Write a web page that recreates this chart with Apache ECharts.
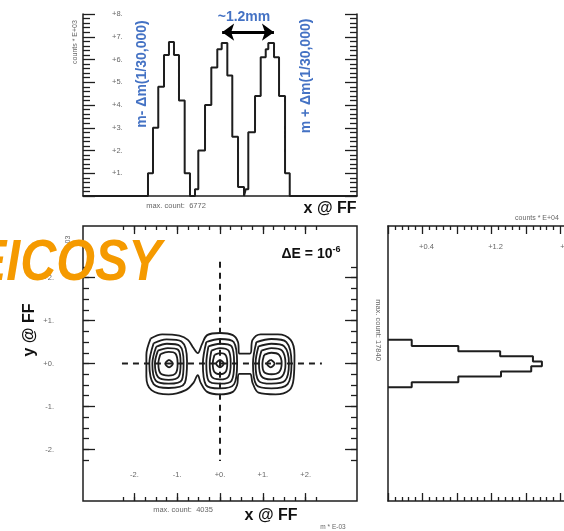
<!DOCTYPE html>
<html><head><meta charset="utf-8">
<script src="https://cdn.jsdelivr.net/npm/echarts@6/dist/echarts.min.js"></script>
<style>html,body{margin:0;padding:0;background:#fff}#c{width:564px;height:531px}</style>
</head><body><div id="c"></div><script>
// ---------- data ----------
// top panel: x-projection histogram (counts * E+03), three peaks
const peak1Edges = [-1.682,-1.565,-1.442,-1.308,-1.192,-1.075,-0.958,-0.825,-0.701];
const peak1Counts = [1.0,3.0,4.8,6.2,6.77,6.2,4.2,1.0];
const peak2Edges = [-0.584,-0.507,-0.350,-0.203,-0.063,0.040,0.171,0.287,0.421,0.561];
const peak2Counts = [0.3,2.0,4.0,5.65,6.45,6.73,5.3,2.6,0.4];
const peak3Edges = [0.600,0.661,0.818,0.951,1.068,1.128,1.262,1.379,1.519,1.629];
const peak3Counts = [0.3,2.8,4.4,6.1,6.45,6.73,6.1,4.4,1.0];
// right panel: y-projection histogram (counts * E+04)
const yHistEdges = [0.555,0.405,0.288,0.171,0.047,-0.063,-0.187,-0.304,-0.438,-0.555];
const yHistCounts = [0.275,0.815,1.30,1.68,1.784,1.66,1.31,0.815,0.275];
// tick labels
const topYTicks = [1,2,3,4,5,6,7,8];
const xyTickLabels = [-2,-1,0,1,2];
const rightTickLabels = [0.4,1.2,2.0];
// contour lines (x, y in m*E-03)
const contourOuter = [[-1.62,0.58],[-1.35,0.68],[-0.95,0.65],[-0.75,0.55],[-0.62,0.36],[-0.52,0.24],[-0.42,0.45],[-0.3,0.66],[0.0,0.71],[0.3,0.66],[0.42,0.5],[0.45,0.23],[0.70,0.23],[0.76,0.55],[0.95,0.68],[1.35,0.68],[1.65,0.55],[1.74,0.2],[1.72,-0.35],[1.62,-0.62],[1.3,-0.72],[0.9,-0.68],[0.76,-0.45],[0.70,-0.24],[0.45,-0.24],[0.4,-0.5],[0.3,-0.66],[0.0,-0.72],[-0.3,-0.66],[-0.45,-0.45],[-0.52,-0.27],[-0.62,-0.45],[-0.8,-0.62],[-1.2,-0.72],[-1.6,-0.62],[-1.72,-0.3],[-1.72,0.2],[-1.62,0.58]];
const left2 = [[-1.55,0.47],[-1.25,0.56],[-0.9,0.51],[-0.77,0.05],[-0.82,-0.45],[-1.2,-0.57],[-1.55,-0.48],[-1.65,0.0],[-1.55,0.47]];
const left3 = [[-1.49,0.39],[-1.24,0.46],[-0.94,0.41],[-0.85,0.02],[-0.89,-0.38],[-1.2,-0.47],[-1.5,-0.40],[-1.58,0.0],[-1.49,0.39]];
const left4 = [[-1.45,0.30],[-1.22,0.36],[-0.98,0.32],[-0.92,0.0],[-0.96,-0.30],[-1.2,-0.38],[-1.45,-0.31],[-1.52,0.0],[-1.45,0.30]];
const left5 = [[-1.39,0.22],[-1.2,0.27],[-1.04,0.23],[-0.99,0.0],[-1.03,-0.22],[-1.2,-0.28],[-1.39,-0.23],[-1.44,0.0],[-1.39,0.22]];
const leftCore = [[-1.19,0.09],[-1.10,0.0],[-1.19,-0.09],[-1.28,0.0],[-1.19,0.09]];
const center2 = [[-0.32,0.50],[0.0,0.57],[0.32,0.50],[0.40,0.0],[0.33,-0.48],[0.0,-0.58],[-0.33,-0.50],[-0.40,0.0],[-0.32,0.50]];
const center3 = [[-0.27,0.40],[0.0,0.46],[0.27,0.40],[0.33,0.0],[0.27,-0.40],[0.0,-0.47],[-0.27,-0.40],[-0.32,0.0],[-0.27,0.40]];
const center4 = [[-0.20,0.30],[0.0,0.36],[0.20,0.30],[0.25,0.0],[0.20,-0.30],[0.0,-0.37],[-0.20,-0.30],[-0.24,0.0],[-0.20,0.30]];
const center5 = [[-0.13,0.2],[0,0.24],[0.13,0.2],[0.17,0],[0.13,-0.2],[0,-0.25],[-0.13,-0.2],[-0.17,0],[-0.13,0.2]];
const centerCore = [[0,0.09],[0.09,0],[0,-0.09],[-0.09,0],[0,0.09]];
const right2 = [[0.85,0.50],[1.2,0.57],[1.55,0.50],[1.67,0.0],[1.58,-0.48],[1.2,-0.58],[0.85,-0.5],[0.77,0.0],[0.85,0.50]];
const right3 = [[0.9,0.40],[1.2,0.46],[1.5,0.40],[1.61,0.0],[1.52,-0.40],[1.2,-0.47],[0.9,-0.40],[0.83,0.0],[0.9,0.40]];
const right4 = [[0.97,0.30],[1.2,0.36],[1.45,0.30],[1.53,0.0],[1.45,-0.30],[1.2,-0.37],[0.97,-0.30],[0.91,0.0],[0.97,0.30]];
const right5 = [[1.03,0.2],[1.2,0.25],[1.38,0.2],[1.44,0],[1.38,-0.2],[1.2,-0.25],[1.03,-0.2],[0.99,0],[1.03,0.2]];
const rightCore = [[1.185,0.09],[1.275,0],[1.185,-0.09],[1.095,0],[1.185,0.09]];
// reference (dashed) lines
const hDash = [[-2.29,0],[2.38,0]];
const vDash = [[0,2.37],[0,-2.27]];
// 1.2 mm arrow ends (x, counts)
const arrowEnds = [[0.05,7.2],[1.26,7.2]];

// ---------- build ----------
function stepPeaks(peaks, lo, hi){
  const pts=[[lo,0]];
  peaks.forEach(([e,c])=>{
    pts.push([e[0],0]);
    for(let i=0;i<c.length;i++){pts.push([e[i],c[i]]);pts.push([e[i+1],c[i]]);}
    pts.push([e[e.length-1],0]);
  });
  pts.push([hi,0]);
  return pts;
}
const xHist = stepPeaks([[peak1Edges,peak1Counts],[peak2Edges,peak2Counts],[peak3Edges,peak3Counts]],-3.2,3.2);
const yHist=[];
yHist.push([0,yHistEdges[0]]);
for(let i=0;i<yHistCounts.length;i++){yHist.push([yHistCounts[i],yHistEdges[i]]);yHist.push([yHistCounts[i],yHistEdges[i+1]]);}
yHist.push([0,yHistEdges[yHistEdges.length-1]]);

const INK='#1e1e1e', GRAY='#666', BLUE='#4472C4';
const FONT='Liberation Sans';
const noAx={show:false};
const noLine={show:false,onZero:false};

function fmtPM(v){return (v>=0?'+':'')+v+'.';}

const option={
  animation:false,
  grid:[
    {left:83,top:14,width:274,height:182,outerBoundsMode:'none'},
    {left:83,top:226,width:274,height:275,show:true,borderColor:INK,borderWidth:1.5,outerBoundsMode:'none'},
    {left:123.67,top:266.8,width:192.66,height:193.4,outerBoundsMode:'none'},
    {left:134.4,top:277.6,width:171.25,height:171.9,outerBoundsMode:'none'},
    {left:388,top:226,width:220,height:275,outerBoundsMode:'none'}
  ],
  xAxis:[
    {gridIndex:0,type:'value',min:-3.2,max:3.2,position:'bottom',axisLine:{show:true,onZero:false,lineStyle:{color:INK,width:1.5}},axisTick:noAx,axisLabel:noAx,splitLine:noAx},
    {gridIndex:1,type:'value',min:-3.2,max:3.2,show:false,axisLine:noLine,splitLine:noAx},
    {gridIndex:2,type:'value',min:-2.25,max:2.25,interval:0.25,position:'bottom',offset:40.8,axisLine:noLine,axisTick:{inside:true,length:4,lineStyle:{color:INK,width:1.3}},axisLabel:noAx,splitLine:noAx},
    {gridIndex:2,type:'value',min:-2.25,max:2.25,interval:0.25,position:'top',offset:40.8,axisLine:noLine,axisTick:{inside:true,length:4,lineStyle:{color:INK,width:1.3}},axisLabel:noAx,splitLine:noAx},
    {gridIndex:3,type:'value',min:-2,max:2,interval:1,position:'bottom',offset:51.56,axisLine:noLine,axisTick:{inside:true,length:8,lineStyle:{color:INK,width:1.3}},axisLabel:{inside:true,margin:22,color:GRAY,fontSize:7.5,fontFamily:FONT,formatter:v=>xyTickLabels.includes(v)?fmtPM(v):''},splitLine:noAx},
    {gridIndex:3,type:'value',min:-2,max:2,interval:1,position:'top',offset:51.56,axisLine:noLine,axisTick:{inside:true,length:8,lineStyle:{color:INK,width:1.3}},axisLabel:noAx,splitLine:noAx},
    {gridIndex:4,type:'value',min:0,max:2.55,interval:0.4,position:'bottom',axisLine:{show:true,onZero:false,lineStyle:{color:INK,width:1.5}},axisTick:{inside:true,length:8,lineStyle:{color:INK,width:1.3}},minorTick:{show:true,splitNumber:5,length:4,lineStyle:{color:INK,width:1.3}},axisLabel:noAx,splitLine:noAx,minorSplitLine:noAx},
    {gridIndex:4,type:'value',min:0,max:2.55,interval:0.4,position:'top',axisLine:{show:true,onZero:false,lineStyle:{color:INK,width:1.5}},axisTick:{inside:true,length:8,lineStyle:{color:INK,width:1.3}},minorTick:{show:true,splitNumber:5,length:4,lineStyle:{color:INK,width:1.3}},axisLabel:{inside:true,margin:17,color:GRAY,fontSize:7.5,fontFamily:FONT,padding:[0,0,0,8],formatter:v=>rightTickLabels.some(t=>Math.abs(t-v)<1e-6)?'+'+(+v.toFixed(1)):''},splitLine:noAx,minorSplitLine:noAx}
  ],
  yAxis:[
    {gridIndex:0,type:'value',min:0,max:8,interval:1,position:'left',axisLine:{show:true,onZero:false,lineStyle:{color:INK,width:1.5}},axisTick:{inside:true,length:12,lineStyle:{color:INK,width:1.3}},minorTick:{show:true,splitNumber:5,length:7,lineStyle:{color:INK,width:1.3}},axisLabel:{inside:true,margin:29,color:GRAY,fontSize:7.5,fontFamily:FONT,formatter:v=>topYTicks.includes(v)?'+'+v+'.':''},splitLine:noAx,minorSplitLine:noAx},
    {gridIndex:0,type:'value',min:0,max:8,interval:1,position:'right',axisLine:{show:true,onZero:false,lineStyle:{color:INK,width:1.5}},axisTick:{inside:true,length:12,lineStyle:{color:INK,width:1.3}},minorTick:{show:true,splitNumber:5,length:7,lineStyle:{color:INK,width:1.3}},axisLabel:noAx,splitLine:noAx,minorSplitLine:noAx},
    {gridIndex:1,type:'value',min:-3.2,max:3.2,show:false,axisLine:noLine,splitLine:noAx},
    {gridIndex:2,type:'value',min:-2.25,max:2.25,interval:0.25,position:'left',offset:40.67,axisLine:noLine,axisTick:{inside:true,length:6,lineStyle:{color:INK,width:1.3}},axisLabel:noAx,splitLine:noAx},
    {gridIndex:2,type:'value',min:-2.25,max:2.25,interval:0.25,position:'right',offset:40.67,axisLine:noLine,axisTick:{inside:true,length:6,lineStyle:{color:INK,width:1.3}},axisLabel:noAx,splitLine:noAx},
    {gridIndex:3,type:'value',min:-2,max:2,interval:1,position:'left',offset:51.4,axisLine:noLine,axisTick:{inside:true,length:12,lineStyle:{color:INK,width:1.3}},axisLabel:{margin:29,color:GRAY,fontSize:7.5,fontFamily:FONT,formatter:v=>xyTickLabels.includes(v)?fmtPM(v):''},splitLine:noAx},
    {gridIndex:3,type:'value',min:-2,max:2,interval:1,position:'right',offset:51.4,axisLine:noLine,axisTick:{inside:true,length:12,lineStyle:{color:INK,width:1.3}},axisLabel:noAx,splitLine:noAx},
    {gridIndex:4,type:'value',min:-3.2,max:3.2,position:'left',axisLine:{show:true,onZero:false,lineStyle:{color:INK,width:1.5}},axisTick:noAx,axisLabel:noAx,splitLine:noAx}
  ],
  series:[]
};

const lineBase={type:'line',symbol:'none',silent:true,z:3};
option.series.push(Object.assign({},lineBase,{xAxisIndex:0,yAxisIndex:0,data:xHist,lineStyle:{color:INK,width:2},
  markLine:{silent:true,symbol:['arrow','arrow'],symbolSize:[13,12],label:{show:false},lineStyle:{color:'#000',width:3,type:'solid'},
    data:[[{coord:arrowEnds[0]},{coord:arrowEnds[1]}]]}}));
option.series.push(Object.assign({},lineBase,{xAxisIndex:6,yAxisIndex:7,data:yHist,lineStyle:{color:INK,width:2}}));
[contourOuter,left2,left3,left4,left5,leftCore,center2,center3,center4,center5,centerCore,right2,right3,right4,right5,rightCore].forEach(c=>{
  option.series.push(Object.assign({},lineBase,{xAxisIndex:1,yAxisIndex:2,data:c,smooth:0.35,lineStyle:{color:INK,width:1.8}}));
});
[hDash,vDash].forEach(d=>{
  option.series.push(Object.assign({},lineBase,{xAxisIndex:1,yAxisIndex:2,data:d,lineStyle:{color:INK,width:2,type:[6,5]}}));
});
option.series.push(Object.assign({},lineBase,{xAxisIndex:2,yAxisIndex:3,data:[]}));
option.series.push(Object.assign({},lineBase,{xAxisIndex:4,yAxisIndex:5,data:[]}));

function txt(x,y,text,style,extra){return Object.assign({type:'text',x:x,y:y,silent:true,z:50,style:Object.assign({text:text,fontFamily:FONT,align:'center',verticalAlign:'middle'},style)},extra||{});}
option.graphic=[
  txt(75,42,'counts * E+03',{fontSize:7,fill:GRAY},{rotation:Math.PI/2}),
  txt(176,206,'max. count:  6772',{fontSize:7.5,fill:GRAY}),
  txt(330,209,'x @ FF',{fontSize:16,fontWeight:'bold',fill:'#111'}),
  txt(142,74,'m- \u0394m(1/30,000)',{fontSize:14,fontWeight:'bold',fill:BLUE},{rotation:Math.PI/2}),
  txt(306,76,'m + \u0394m(1/30,000)',{fontSize:14,fontWeight:'bold',fill:BLUE},{rotation:Math.PI/2}),
  txt(244,17,'~1.2mm',{fontSize:14,fontWeight:'bold',fill:BLUE}),
  txt(68,243,'E-03',{fontSize:7,fill:GRAY},{rotation:Math.PI/2}),
  txt(30,330,'y @ FF',{fontSize:16,fontWeight:'bold',fill:'#111'},{rotation:Math.PI/2}),
  {type:'text',x:311,y:254,silent:true,z:50,style:{rich:{b:{fontSize:14,fontWeight:'bold',fill:'#111',fontFamily:FONT},s:{fontSize:9,fontWeight:'bold',fill:'#111',fontFamily:FONT,verticalAlign:'top',padding:[0,0,8,0]}},text:'{b|\u0394E = 10}{s|-6}',align:'center',verticalAlign:'middle'}},
  txt(183,510,'max. count:  4035',{fontSize:7.5,fill:GRAY}),
  txt(271,516,'x @ FF',{fontSize:16,fontWeight:'bold',fill:'#111'}),
  txt(333,527,'m * E-03',{fontSize:6.5,fill:GRAY}),
  txt(378,330,'max. count: 17840',{fontSize:7.5,fill:GRAY},{rotation:-Math.PI/2}),
  txt(537,218,'counts * E+04',{fontSize:7,fill:GRAY}),
  {type:'text',x:-27,y:264,silent:true,z:60,scaleX:0.86,style:{text:'EICOSY',fontFamily:FONT,fontSize:58,fontWeight:'bold',fontStyle:'italic',fill:'#F59A00',align:'left',verticalAlign:'middle'}}
];

const chart=echarts.init(document.getElementById('c'),null,{renderer:'canvas'});
chart.setOption(option);
</script></body></html>
